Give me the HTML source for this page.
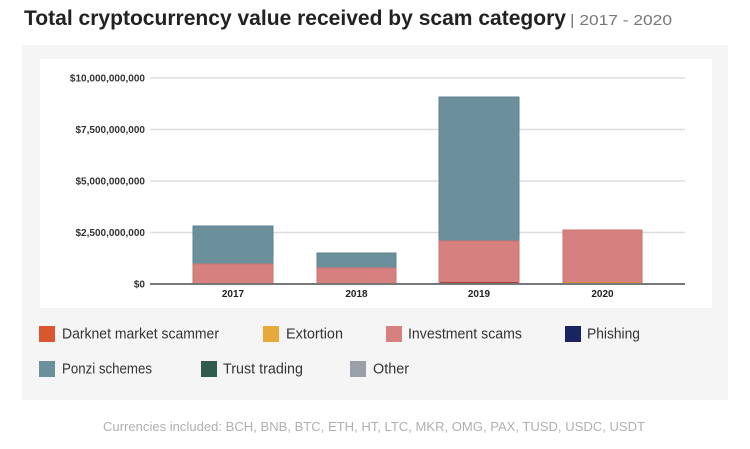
<!DOCTYPE html>
<html>
<head>
<meta charset="utf-8">
<style>
  html, body { margin: 0; padding: 0; background: #ffffff; }
  body { width: 750px; height: 449px; overflow: hidden; }
  svg { display: block; }
  text { font-family: "Liberation Sans", Arial, sans-serif; }
</style>
</head>
<body>
<svg width="750" height="449" viewBox="0 0 750 449" xmlns="http://www.w3.org/2000/svg">
  <rect x="0" y="0" width="750" height="449" fill="#ffffff"/>

  <!-- Title -->
  <text x="24" y="25" font-size="21" font-weight="bold" fill="#222222" textLength="542" lengthAdjust="spacingAndGlyphs">Total cryptocurrency value received by scam category</text>
  <text x="570" y="25" font-size="15" fill="#777777" textLength="102" lengthAdjust="spacingAndGlyphs">| 2017 - 2020</text>

  <!-- Gray panel -->
  <rect x="22" y="45" width="706" height="355" fill="#f5f5f5"/>
  <!-- White chart area -->
  <rect x="40" y="59" width="672" height="249" fill="#ffffff"/>

  <!-- Gridlines -->
  <g stroke="#dddddd" stroke-width="1.5">
    <line x1="150" y1="78" x2="685" y2="78"/>
    <line x1="150" y1="129.5" x2="685" y2="129.5"/>
    <line x1="150" y1="181" x2="685" y2="181"/>
    <line x1="150" y1="232.5" x2="685" y2="232.5"/>
  </g>

  <!-- Y labels -->
  <g font-size="10" font-weight="bold" fill="#333333" text-anchor="end">
    <text x="145" y="81.5">$10,000,000,000</text>
    <text x="145" y="133">$7,500,000,000</text>
    <text x="145" y="184.5">$5,000,000,000</text>
    <text x="145" y="236">$2,500,000,000</text>
    <text x="145" y="287.5">$0</text>
  </g>

  <!-- Bars -->
  <g stroke-width="1">
    <!-- 2017 -->
    <rect x="193" y="226" width="80" height="38" fill="#6b8f9b" stroke="#5f8390"/>
    <rect x="193" y="264" width="80" height="19.5" fill="#d6817f" stroke="#c97572"/>
    <!-- 2018 -->
    <rect x="317" y="253" width="79" height="15" fill="#6b8f9b" stroke="#5f8390"/>
    <rect x="317" y="268" width="79" height="15.5" fill="#d6817f" stroke="#c97572"/>
    <!-- 2019 -->
    <rect x="439" y="97" width="80" height="144" fill="#6b8f9b" stroke="#5f8390"/>
    <rect x="439" y="241" width="80" height="42.5" fill="#d6817f" stroke="#c97572"/>
    <!-- 2020 -->
    <rect x="563" y="230" width="79" height="53.5" fill="#d6817f" stroke="#c97572"/>
  </g>
  <line x1="440" y1="282.5" x2="518" y2="282.5" stroke="#a8403a" stroke-width="1"/>
  <line x1="564" y1="282.5" x2="641" y2="282.5" stroke="#d0903a" stroke-width="1"/>

  <!-- Axis line -->
  <line x1="150" y1="284" x2="685" y2="284" stroke="#777777" stroke-width="2"/>

  <!-- X labels -->
  <g font-size="10" font-weight="bold" fill="#222222" text-anchor="middle">
    <text x="233" y="297">2017</text>
    <text x="356.5" y="297">2018</text>
    <text x="479" y="297">2019</text>
    <text x="602.5" y="297">2020</text>
  </g>

  <!-- Legend -->
  <g font-size="15" fill="#333333">
    <rect x="39" y="326" width="16" height="16" fill="#d9572f"/>
    <text x="62" y="338.5" textLength="157" lengthAdjust="spacingAndGlyphs">Darknet market scammer</text>

    <rect x="263" y="326" width="16" height="16" fill="#e8a93b"/>
    <text x="286" y="338.5" textLength="57" lengthAdjust="spacingAndGlyphs">Extortion</text>

    <rect x="386" y="326" width="16" height="16" fill="#d6817f"/>
    <text x="408" y="338.5" textLength="114" lengthAdjust="spacingAndGlyphs">Investment scams</text>

    <rect x="565" y="326" width="16" height="16" fill="#1a2460"/>
    <text x="587" y="338.5" textLength="53" lengthAdjust="spacingAndGlyphs">Phishing</text>

    <rect x="39" y="361" width="16" height="16" fill="#6b8f9b"/>
    <text x="62" y="373.5" textLength="90" lengthAdjust="spacingAndGlyphs">Ponzi schemes</text>

    <rect x="201" y="361" width="16" height="16" fill="#2f5c4e"/>
    <text x="223" y="373.5" textLength="80" lengthAdjust="spacingAndGlyphs">Trust trading</text>

    <rect x="350" y="361" width="16" height="16" fill="#9aa0a8"/>
    <text x="373" y="373.5" textLength="36" lengthAdjust="spacingAndGlyphs">Other</text>
  </g>

  <!-- Footer -->
  <text x="103" y="431" font-size="13" fill="#b0b0b0" textLength="542" lengthAdjust="spacingAndGlyphs">Currencies included: BCH, BNB, BTC, ETH, HT, LTC, MKR, OMG, PAX, TUSD, USDC, USDT</text>
</svg>
</body>
</html>
